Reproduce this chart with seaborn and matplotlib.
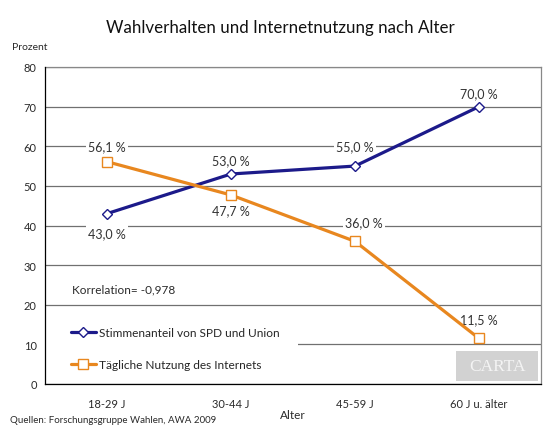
import matplotlib.pyplot as plt
import seaborn as sns
import pandas as pd
from matplotlib.patches import Rectangle

# Daten
alter = ["18-29 J", "30-44 J", "45-59 J", "60 J u. älter"]
spd_union = [43.0, 53.0, 55.0, 70.0]
internet = [56.1, 47.7, 36.0, 11.5]
serie_spd = "Stimmenanteil von SPD und Union"
serie_net = "Tägliche Nutzung des Internets"

df = pd.DataFrame({
    "x": list(range(len(alter))) * 2,
    "wert": spd_union + internet,
    "serie": [serie_spd] * len(alter) + [serie_net] * len(alter),
})

sns.set_theme(style="white")
plt.rcParams["font.family"] = ["Lato", "DejaVu Sans"]

blau = "#1c1a8a"
orange = "#e8871f"
txt = "#2a2a2a"

fig = plt.figure(figsize=(5.55, 4.31), dpi=100)
ax = fig.add_axes([45 / 555, 46 / 431, 496 / 555, 317 / 431])

sns.lineplot(data=df, x="x", y="wert", hue="serie", style="serie",
             palette={serie_spd: blau, serie_net: orange},
             markers={serie_spd: "D", serie_net: "s"}, dashes=False,
             linewidth=2.3, ax=ax, zorder=5, legend=False)
linien = ax.get_lines()[:2]
for line, col, ms in zip(linien, [blau, orange], [5.5, 7.5]):
    line.set_markeredgecolor(col)
    line.set_markerfacecolor("white")
    line.set_markeredgewidth(1.0)
    line.set_markersize(ms)

ax.set_xlim(-0.5, 3.5)
ax.set_ylim(0, 80)
ax.set_yticks(range(0, 81, 10))
ax.set_xticks(range(len(alter)))
ax.set_xticklabels(alter, fontsize=8, color=txt)
ax.set_xticks([i - 0.5 for i in range(len(alter) + 1)], minor=True)
ax.tick_params(axis="x", which="major", length=0, pad=10)
ax.tick_params(axis="x", which="minor", length=4, width=0.8, color="black", direction="out")
ax.tick_params(axis="y", length=4, width=0.8, color="black", direction="out", labelsize=8, pad=2)
ax.set_yticklabels([str(v) for v in range(0, 81, 10)], color=txt)

ax.yaxis.grid(True, color="#707070", linewidth=0.9, zorder=0)
ax.set_axisbelow(True)
for s in ["top", "right"]:
    ax.spines[s].set_color("#888888")
    ax.spines[s].set_linewidth(0.9)
for s in ["left", "bottom"]:
    ax.spines[s].set_color("black")
    ax.spines[s].set_linewidth(0.9)
    ax.spines[s].set_zorder(6)

ax.set_xlabel("Alter", fontsize=8.5, color=txt, labelpad=0)
ax.set_ylabel("")

# Datenbeschriftungen mit weißem Hintergrund
box = dict(facecolor="white", edgecolor="none", pad=1.5)
pos_spd = [(0.0, 38.1), (1.0, 56.4), (2.0, 60.0), (3.0, 73.3)]
pos_net = [(0.0, 60.0), (1.0, 43.9), (2.07, 40.8), (3.0, 16.4)]
for (px, py), v in zip(pos_spd + pos_net, spd_union + internet):
    ax.text(px, py, f"{v:.1f} %".replace(".", ","), ha="center", va="center",
            fontsize=9, color="#333333", bbox=box, zorder=4)

ax.text(-0.285, 24.0, "Korrelation= -0,978", fontsize=8.5, color=txt, va="center")

# Legende auf weißer Fläche
ax.add_patch(Rectangle((-0.49, 0.6), 2.03, 17.5, facecolor="white",
                       edgecolor="none", zorder=1.5))
leg = ax.legend(handles=linien, labels=[serie_spd, serie_net], loc="upper left",
                bbox_to_anchor=(0.052, 0.18), frameon=False, fontsize=8.6,
                handlelength=2.1, labelspacing=1.75, borderpad=0.0,
                borderaxespad=0.0, handletextpad=0.3)
leg.set_zorder(3)

# CARTA-Logo
fig.patches.append(Rectangle((456 / 555, 1 - 382 / 431), 82 / 555, 30 / 431,
                             transform=fig.transFigure, facecolor="#d2d2d2",
                             edgecolor="none", zorder=10))
fig.text(497 / 555, 1 - 367 / 431, "CARTA", ha="center", va="center",
         fontsize=12.5, color="#f4f4f4", family="Liberation Serif", zorder=11)

fig.text(280 / 555, 1 - 28 / 431, "Wahlverhalten und Internetnutzung nach Alter",
         ha="center", va="center", fontsize=12.2, color="#111111")
fig.text(12 / 555, 1 - 47 / 431, "Prozent", ha="left", va="center", fontsize=7.5, color=txt)
fig.text(10 / 555, 1 - 421 / 431, "Quellen: Forschungsgruppe Wahlen, AWA 2009",
         ha="left", va="center", fontsize=7, color=txt)

fig.savefig("out.png", dpi=100)
